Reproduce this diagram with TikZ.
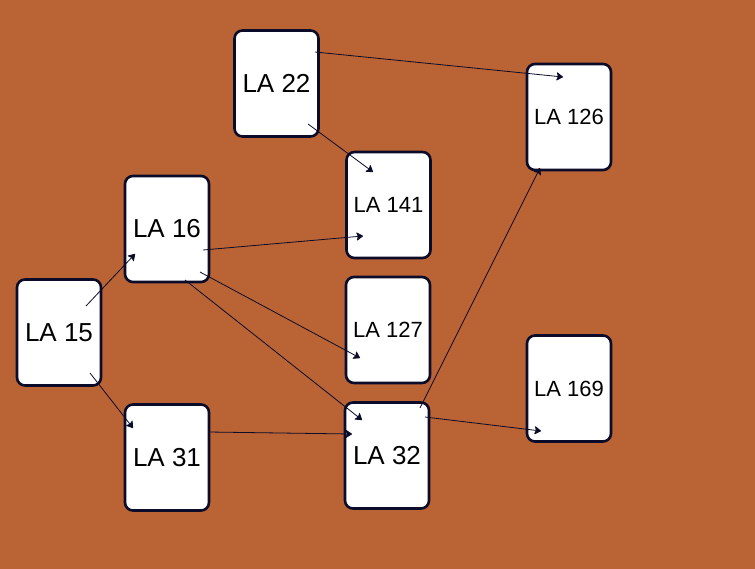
\documentclass[tikz,border=0pt]{standalone}
\usepackage{fontspec}
\setmainfont{Liberation Sans}
\usetikzlibrary{arrows.meta}
\definecolor{rust}{RGB}{186,99,52}
\definecolor{navy}{RGB}{10,12,42}
\tikzset{lanode/.style={draw=navy,fill=white,line width=2.6pt,rounded corners=8pt,
    minimum width=84pt,minimum height=106pt,inner sep=0pt,font=\fontsize{26}{30}\selectfont},
  lasmall/.style={lanode,font=\fontsize{22}{26}\selectfont},
  laedge/.style={navy,line width=0.8pt,-{Stealth[round,length=7pt,width=9pt,inset=1.5pt]}}}
\begin{document}
\begin{tikzpicture}[x=1pt,y=-1pt]
    \fill[rust] (0,0) rectangle (755,569);
    \useasboundingbox (0,0) rectangle (755,569);
    % big labels
    \foreach \nm/\x/\y/\txt in {la22/276.5/83.5/LA 22,la16/167/229/LA 16,la15/59/332.5/LA 15,
      la31/167/457.5/LA 31,la32/387/455.5/LA 32}
      \node[lanode] (\nm) at (\x,\y) {\txt};
    % small labels
    \foreach \nm/\x/\y/\txt in {la126/569/117/LA 126,la141/388.5/205/LA 141,
      la127/388/330/LA 127,la169/569/388.5/LA 169}
      \node[lasmall] (\nm) at (\x,\y) {\txt};
    \draw[laedge] ([shift={(38.5,-31.5)}]la22.center) -- ([shift={(-6,-40)}]la126.center);
    \draw[laedge] ([shift={(31.5,40.5)}]la22.center) -- ([shift={(-15.5,-33)}]la141.center);
    \draw[laedge] ([shift={(36,21)}]la16.center) -- ([shift={(-25.5,31)}]la141.center);
    \draw[laedge] ([shift={(33,43)}]la16.center) -- ([shift={(-28,28)}]la127.center);
    \draw[laedge] ([shift={(18,51)}]la16.center) -- ([shift={(-25,-35.5)}]la32.center);
    \draw[laedge] ([shift={(27,-26.5)}]la15.center) -- ([shift={(-32,25)}]la16.center);
    \draw[laedge] ([shift={(31,40.5)}]la15.center) -- ([shift={(-34,-29.5)}]la31.center);
    \draw[laedge] ([shift={(41,-25.5)}]la31.center) -- ([shift={(-35,-21.5)}]la32.center);
    \draw[laedge] ([shift={(33,-47.5)}]la32.center) -- ([shift={(-29,51)}]la126.center);
    \draw[laedge] ([shift={(38,-38.5)}]la32.center) -- ([shift={(-28,42.5)}]la169.center);
\end{tikzpicture}
\end{document}
